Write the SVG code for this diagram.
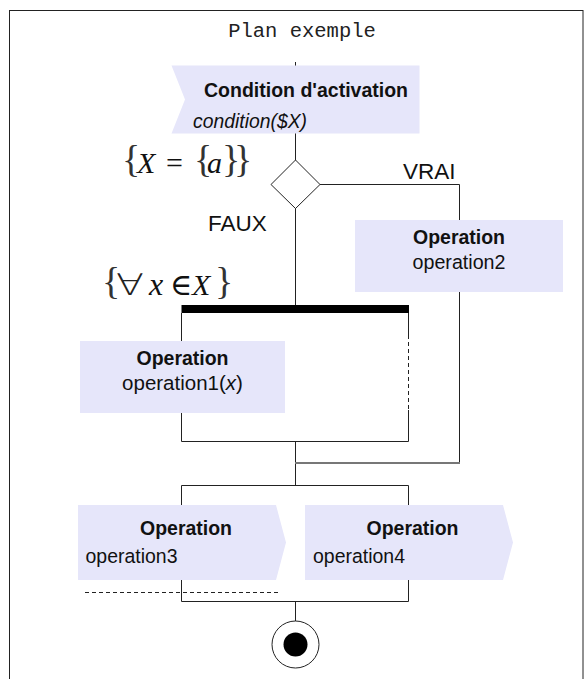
<svg xmlns="http://www.w3.org/2000/svg" width="585" height="679" viewBox="0 0 585 679">
<style>
.ln{fill:none;stroke:#222;stroke-width:1}
.gr{fill:none;stroke:#777;stroke-width:2}
.dash{fill:none;stroke:#222;stroke-width:1;stroke-dasharray:4,3}
.nd{fill:#e6e6fa;stroke:none}
.t{font-family:"Liberation Sans",Arial,sans-serif;font-size:20.5px;fill:#111}
.b{font-weight:bold}
.lbl{font-family:"Liberation Sans",Arial,sans-serif;font-size:22.5px;fill:#111}
.m{font-family:"Liberation Serif","DejaVu Serif",serif;font-size:30px;fill:#111}
.br{font-size:38px;fill:#333}
.i{font-style:italic}
</style>
<rect x="9.5" y="10.5" width="573.5" height="700" fill="#fff" stroke="#222" stroke-width="1"/>
<text x="302" y="37" text-anchor="middle" style="font-family:'Liberation Mono','Courier New',monospace;font-size:20.5px;fill:#222">Plan exemple</text>
<g id="connectors">
<line class="ln" x1="295.5" y1="62" x2="295.5" y2="160"/>
<line class="ln" x1="295.5" y1="208" x2="295.5" y2="305"/>
<polyline class="ln" points="320,184.5 459.5,184.5 459.5,463"/>
<polyline class="ln" points="181.5,313 181.5,441.5 408.5,441.5 408.5,410"/>
<line class="ln" x1="408.5" y1="313" x2="408.5" y2="335"/>
<line class="dash" x1="408.5" y1="335" x2="408.5" y2="410"/>
<line class="ln" x1="295.5" y1="441" x2="295.5" y2="485"/>
<line class="gr" x1="295" y1="463" x2="460" y2="463"/>
<polyline class="ln" points="181.5,505 181.5,485.5 408.5,485.5 408.5,505"/>
<polyline class="ln" points="181.5,580 181.5,601.5 408.5,601.5 408.5,580"/>
<line class="ln" x1="295.5" y1="601" x2="295.5" y2="621"/>
<line class="dash" x1="85" y1="592.5" x2="280" y2="592.5"/>
</g>
<g id="condition">
<polygon class="nd" points="171.5,65.5 419.5,65.5 419.5,133.5 171.5,133.5 185,99.5"/>
<text class="t b" x="306" y="96.5" text-anchor="middle" textLength="204" lengthAdjust="spacingAndGlyphs">Condition d'activation</text>
<text class="t i" x="193" y="128" textLength="114" lengthAdjust="spacingAndGlyphs">condition($X)</text>
</g>
<g id="guard1">
<text class="m"><tspan class="br" x="122" y="172">{</tspan><tspan class="i" x="137" y="173">X</tspan><tspan x="166" y="173">=</tspan><tspan class="br" x="194" y="172">{</tspan><tspan class="i" x="207" y="173">a</tspan><tspan class="br" x="222" y="172">}</tspan><tspan class="br" x="234" y="172">}</tspan></text>
</g>
<g id="decision">
<polygon points="295.5,160 320,184.5 295.5,208.5 271,184.5" fill="#fff" stroke="#222" stroke-width="1"/>
</g>
<text class="lbl" x="403" y="178.5">VRAI</text>
<text class="lbl" x="208" y="230.5">FAUX</text>
<g id="op2">
<rect class="nd" x="355" y="220" width="208" height="72"/>
<text class="t b" x="459" y="243.5" text-anchor="middle" textLength="92" lengthAdjust="spacingAndGlyphs">Operation</text>
<text class="t" x="459" y="268.5" text-anchor="middle" textLength="93" lengthAdjust="spacingAndGlyphs">operation2</text>
</g>
<g id="guard2">
<text class="m"><tspan class="br" x="102" y="294">{</tspan><tspan class="i" x="149" y="295" style="font-size:32px">x</tspan><tspan x="170" y="295">∈</tspan><tspan class="i" x="192" y="295">X</tspan><tspan class="br" x="215" y="294">}</tspan></text>
<text x="116" y="295" textLength="28" lengthAdjust="spacingAndGlyphs" style="font-family:'DejaVu Sans',sans-serif;font-weight:200;font-size:30px;fill:#222">∀</text>
</g>
<g id="foreach">
<rect x="181.5" y="305" width="227.5" height="8" fill="#000"/>
</g>
<g id="op1">
<rect class="nd" x="80" y="341" width="205" height="72"/>
<text class="t b" x="182.5" y="364.5" text-anchor="middle" textLength="92" lengthAdjust="spacingAndGlyphs">Operation</text>
<text class="t" x="182.5" y="390" text-anchor="middle">operation1(<tspan class="i">x</tspan>)</text>
</g>
<g id="op3">
<polygon class="nd" points="78,505 276,505 286,542.5 276,580 78,580"/>
<text class="t b" x="186" y="535" text-anchor="middle" textLength="92" lengthAdjust="spacingAndGlyphs">Operation</text>
<text class="t" x="85.5" y="563" textLength="92" lengthAdjust="spacingAndGlyphs">operation3</text>
</g>
<g id="op4">
<polygon class="nd" points="305,505 503,505 513,542.5 503,580 305,580"/>
<text class="t b" x="412.5" y="535" text-anchor="middle" textLength="92" lengthAdjust="spacingAndGlyphs">Operation</text>
<text class="t" x="313" y="563" textLength="92" lengthAdjust="spacingAndGlyphs">operation4</text>
</g>
<g id="final">
<circle cx="295.5" cy="644.5" r="23.5" fill="#fff" stroke="#222" stroke-width="1"/>
<circle cx="295.5" cy="644.5" r="12" fill="#000"/>
</g>
</svg>
